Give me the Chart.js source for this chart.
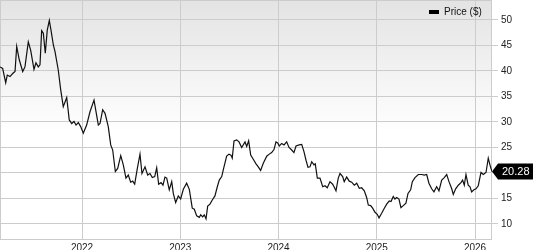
<!DOCTYPE html>
<html>
<head>
<meta charset="utf-8">
<script src="https://cdn.jsdelivr.net/npm/chart.js@4"></script>
<style>
  html, body { margin: 0; padding: 0; background: #fff; }
  #wrap { width: 533px; height: 250px; }
</style>
</head>
<body>
<div id="wrap"><canvas id="chart" width="533" height="250"></canvas></div>
<script>
// dates as decimal years, prices in $
const years = [
  2021.165, 2021.192, 2021.223, 2021.239, 2021.267, 2021.294, 2021.318, 2021.335, 2021.361, 2021.396,
  2021.419, 2021.453, 2021.477, 2021.511, 2021.531, 2021.555, 2021.572, 2021.589, 2021.606, 2021.626,
  2021.646, 2021.667, 2021.684, 2021.708, 2021.725, 2021.758, 2021.783, 2021.809, 2021.844, 2021.870,
  2021.895, 2021.918, 2021.939, 2021.962, 2021.986, 2022.013, 2022.047, 2022.081, 2022.122, 2022.166,
  2022.183, 2022.210, 2022.234, 2022.267, 2022.292, 2022.312, 2022.339, 2022.363, 2022.394, 2022.420,
  2022.447, 2022.471, 2022.495, 2022.516, 2022.536, 2022.563, 2022.590, 2022.610, 2022.641, 2022.668,
  2022.692, 2022.715, 2022.740, 2022.760, 2022.780, 2022.804, 2022.824, 2022.844, 2022.862, 2022.888,
  2022.913, 2022.929, 2022.953, 2022.980, 2023.004, 2023.031, 2023.065, 2023.092, 2023.122, 2023.143,
  2023.167, 2023.194, 2023.208, 2023.228, 2023.244, 2023.262, 2023.279, 2023.302, 2023.326, 2023.353,
  2023.377, 2023.397, 2023.422, 2023.445, 2023.472, 2023.496, 2023.516, 2023.529, 2023.547, 2023.574,
  2023.598, 2023.625, 2023.659, 2023.676, 2023.696, 2023.717, 2023.743, 2023.771, 2023.794, 2023.818,
  2023.845, 2023.880, 2023.906, 2023.930, 2023.954, 2023.974, 2023.992, 2024.008, 2024.032, 2024.056,
  2024.083, 2024.107, 2024.134, 2024.157, 2024.178, 2024.211, 2024.236, 2024.259, 2024.280, 2024.300,
  2024.320, 2024.338, 2024.361, 2024.374, 2024.395, 2024.422, 2024.450, 2024.473, 2024.496, 2024.524,
  2024.551, 2024.565, 2024.585, 2024.608, 2024.626, 2024.653, 2024.669, 2024.694, 2024.720, 2024.745,
  2024.771, 2024.796, 2024.822, 2024.846, 2024.873, 2024.897, 2024.914, 2024.938, 2024.958, 2024.982,
  2025.005, 2025.023, 2025.050, 2025.077, 2025.101, 2025.127, 2025.145, 2025.168, 2025.185, 2025.203,
  2025.226, 2025.246, 2025.270, 2025.297, 2025.318, 2025.345, 2025.362, 2025.389, 2025.423, 2025.457,
  2025.484, 2025.508, 2025.531, 2025.559, 2025.582, 2025.610, 2025.633, 2025.661, 2025.687, 2025.712,
  2025.735, 2025.763, 2025.779, 2025.803, 2025.830, 2025.857, 2025.874, 2025.891, 2025.908, 2025.931,
  2025.949, 2025.966, 2025.989, 2026.010, 2026.033, 2026.061, 2026.084, 2026.112, 2026.135, 2026.152,
  2026.173
];
const prices = [
  40.8, 40.5, 37.7, 39.2, 38.9, 39.5, 39.9, 44.8, 42.2, 39.9,
  40.8, 45.7, 44.1, 40.3, 41.6, 40.8, 41.2, 47.9, 47.4, 43.5,
  48.0, 49.9, 48.0, 45.1, 43.8, 40.2, 36.3, 33.0, 34.8, 30.4,
  29.7, 30.1, 29.4, 29.9, 29.1, 27.8, 29.4, 32.0, 34.3, 29.4,
  29.7, 32.4, 31.7, 29.1, 25.5, 24.5, 20.3, 20.9, 23.4, 21.6,
  19.0, 19.6, 18.2, 18.4, 17.8, 20.9, 23.7, 19.9, 21.2, 19.6,
  19.9, 19.1, 19.3, 21.0, 17.8, 18.1, 17.6, 19.2, 19.0, 16.7,
  18.3, 16.0, 14.2, 15.5, 14.9, 16.8, 18.0, 16.8, 13.1, 12.9,
  11.6, 11.3, 11.8, 11.4, 11.8, 11.0, 13.5, 13.9, 14.7, 15.5,
  17.3, 18.6, 19.3, 21.2, 23.3, 23.7, 23.5, 22.9, 26.3, 26.5,
  26.1, 25.0, 26.1, 25.2, 26.3, 23.5, 22.7, 21.8, 21.2, 20.5,
  21.9, 23.3, 23.7, 24.0, 24.6, 26.1, 25.9, 25.3, 25.8, 25.5,
  26.1, 25.0, 24.5, 24.0, 25.3, 25.5, 25.6, 24.2, 22.5, 21.1,
  21.2, 22.2, 21.6, 21.8, 19.0, 19.0, 17.3, 17.5, 17.1, 18.3,
  17.8, 17.3, 16.5, 19.0, 19.9, 19.3, 18.3, 19.2, 18.4, 18.2,
  17.6, 18.0, 17.0, 17.1, 16.5, 15.2, 13.7, 13.6, 13.1, 12.3,
  11.9, 11.2, 12.1, 13.1, 13.9, 14.5, 14.4, 15.4, 14.9, 15.2,
  14.9, 13.2, 13.6, 14.1, 16.0, 16.7, 18.3, 19.1, 19.7, 19.7,
  19.6, 19.7, 18.0, 16.9, 16.3, 17.3, 16.5, 18.6, 19.1, 19.7,
  18.3, 16.9, 15.8, 16.9, 17.6, 18.1, 18.6, 17.6, 19.7, 17.6,
  17.3, 16.3, 16.7, 16.9, 17.5, 20.1, 19.7, 20.1, 22.9, 21.6,
  20.28
];
const yearTicks = [2022, 2023, 2024, 2025, 2026];
const priceTicks = [10, 15, 20, 25, 30, 35, 40, 45, 50];
const seriesName = 'Price ($)';

const points = years.map((x, i) => ({ x: x, y: prices[i] }));
const gridColor = '#cccccc';
const textColor = '#222222';
const fontFamily = '"Liberation Sans", Arial, sans-serif';

// fondo degradado + marco del área
const panel = {
  id: 'panel',
  beforeDraw(chart) {
    const { ctx, chartArea: a } = chart;
    const g = ctx.createLinearGradient(0, a.top, 0, a.bottom);
    g.addColorStop(0, '#e3e3e3');
    g.addColorStop(0.55, '#ffffff');
    g.addColorStop(1, '#ffffff');
    ctx.save();
    ctx.fillStyle = g;
    ctx.fillRect(a.left, a.top, a.right - a.left, a.bottom - a.top);
    ctx.restore();
  },
  beforeDatasetsDraw(chart) {
    const { ctx, chartArea: a } = chart;
    ctx.save();
    ctx.strokeStyle = gridColor;
    ctx.lineWidth = 1;
    ctx.strokeRect(a.left + 0.5, a.top + 0.5, a.right - a.left - 1, a.bottom - a.top - 1);
    ctx.restore();
  },
  afterDraw(chart) {
    const { ctx, chartArea: a } = chart;
    const ys = chart.scales.y;
    // leyenda
    ctx.save();
    ctx.fillStyle = '#000';
    ctx.fillRect(429, 10, 10, 4);
    ctx.fillStyle = '#111';
    ctx.font = '10px ' + fontFamily;
    ctx.textBaseline = 'middle';
    ctx.textAlign = 'left';
    ctx.fillText(seriesName, 444, 12.5);
    // etiqueta del último precio
    const last = prices[prices.length - 1];
    const py = ys.getPixelForValue(last);
    const x0 = a.right;
    ctx.fillStyle = '#000';
    ctx.beginPath();
    ctx.moveTo(x0, py);
    ctx.lineTo(x0 + 6, py - 8);
    ctx.lineTo(533, py - 8);
    ctx.lineTo(533, py + 8);
    ctx.lineTo(x0 + 6, py + 8);
    ctx.closePath();
    ctx.fill();
    ctx.fillStyle = '#fff';
    ctx.font = '11px ' + fontFamily;
    ctx.fillText(last.toFixed(2), 502, py + 0.5);
    ctx.restore();
  }
};

new Chart(document.getElementById('chart'), {
  type: 'line',
  data: {
    datasets: [{
      label: seriesName,
      data: points,
      borderColor: '#111',
      borderWidth: 1.2,
      pointRadius: 0,
      tension: 0,
      fill: false
    }]
  },
  options: {
    responsive: false,
    animation: false,
    layout: { padding: 0 },
    plugins: { legend: { display: false }, tooltip: { enabled: false } },
    scales: {
      x: {
        type: 'linear',
        min: 2021.165,
        max: 2026.173,
        afterBuildTicks: s => { s.ticks = yearTicks.map(v => ({ value: v })); },
        afterFit: s => { s.height = 10; s.paddingLeft = 0; s.paddingRight = 0; },
        grid: { color: gridColor, drawTicks: false },
        border: { display: false },
        ticks: {
          padding: 2,
          color: textColor,
          font: { family: fontFamily, size: 10 },
          maxRotation: 0,
          callback: v => String(v)
        }
      },
      y: {
        position: 'right',
        min: 6.86,
        max: 53.92,
        afterBuildTicks: s => { s.ticks = priceTicks.map(v => ({ value: v })); },
        afterFit: s => { s.width = 41; s.paddingTop = 0; s.paddingBottom = 0; },
        grid: { color: gridColor, tickLength: 6 },
        border: { display: false },
        ticks: {
          padding: 3,
          color: textColor,
          font: { family: fontFamily, size: 10 },
          callback: v => String(v)
        }
      }
    }
  },
  plugins: [panel]
});
</script>
</body>
</html>
